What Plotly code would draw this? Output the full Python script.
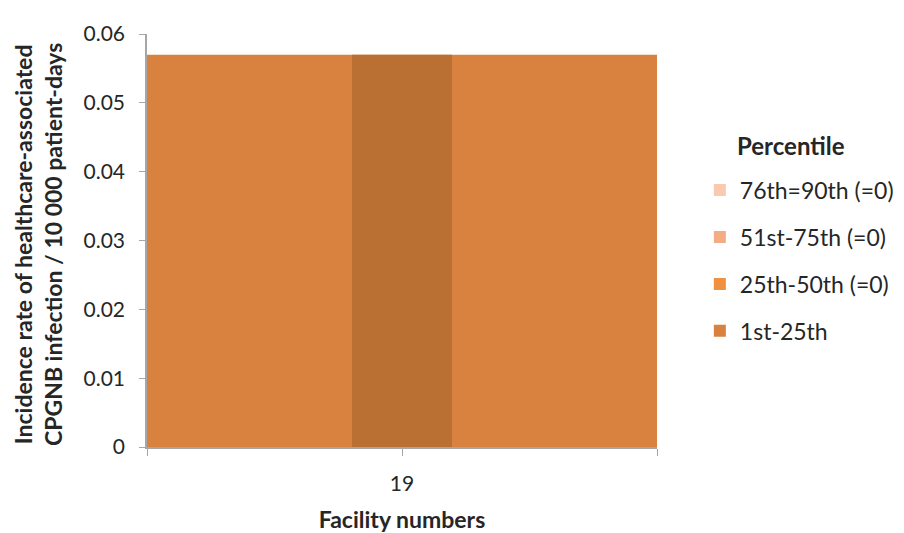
import plotly.graph_objects as go

facilities = ["19"]
p76_90 = [0]
p51_75 = [0]
p25_50 = [0]
p1_25 = [0.057]
y_ticks = [0, 0.01, 0.02, 0.03, 0.04, 0.05, 0.06]
y_ticktext = ["0", "0.01", "0.02", "0.03", "0.04", "0.05", "0.06"]

x_pos = list(range(len(facilities)))
FONT = "Lato, Noto Sans, sans-serif"

fig = go.Figure()
# full-width area (1st-25th)
fig.add_trace(go.Bar(x=x_pos, y=p1_25, width=1, name="1st-25th",
                     marker=dict(color="#D9823F", line=dict(width=0)),
                     legendgroup="d", legendrank=4))
# facility bar
fig.add_trace(go.Bar(x=x_pos, y=p1_25, width=0.196, name="1st-25th",
                     marker=dict(color="#B97032", line=dict(width=0)),
                     showlegend=False))
fig.add_trace(go.Bar(x=x_pos, y=p25_50, width=0.196, name="25th-50th (=0)",
                     marker=dict(color="#F0913F", line=dict(width=0)),
                     legendgroup="c", legendrank=3))
fig.add_trace(go.Bar(x=x_pos, y=p51_75, width=0.196, name="51st-75th (=0)",
                     marker=dict(color="#F2AD87", line=dict(width=0)),
                     legendgroup="b", legendrank=2))
fig.add_trace(go.Bar(x=x_pos, y=p76_90, width=0.196, name="76th=90th (=0)",
                     marker=dict(color="#F9C9B0", line=dict(width=0)),
                     legendgroup="a", legendrank=1))

fig.update_layout(
    width=904, height=533,
    margin=dict(l=139, r=255, t=17, b=93),
    barmode="overlay",
    plot_bgcolor="white", paper_bgcolor="white",
    font=dict(family=FONT, size=21, color="#262626"),
    showlegend=True,
    legend=dict(
        x=1.084, xanchor="left", y=0.674, yanchor="top",
        traceorder="grouped", tracegroupgap=14,
        font=dict(size=23), itemwidth=30,
    ),
    xaxis=dict(
        range=[-0.5, 0.5], tickvals=[-0.5, 0, 0.5], ticktext=["", facilities[0], ""],
        showline=True, linecolor="#A6A6A6", linewidth=1.5,
        ticks="outside", ticklen=7, tickcolor="#A6A6A6",
        showgrid=False, zeroline=False,
        tickfont=dict(size=21), ticklabelstandoff=10,
        title=dict(text="<b>Facility numbers</b>", font=dict(size=23), standoff=18),
    ),
    yaxis=dict(
        range=[0, 0.06], tickvals=y_ticks, ticktext=y_ticktext,
        showline=True, linecolor="#A6A6A6", linewidth=1.5,
        ticks="outside", ticklen=6, tickcolor="#A6A6A6",
        showgrid=True, gridcolor="#A6A6A6", gridwidth=1.5, zeroline=False,
        tickfont=dict(size=21), ticklabelstandoff=10,
    ),
    annotations=[
        dict(text="<b>Incidence rate of healthcare-associated<br>CPGNB infection / 10 000 patient-days</b>",
             xref="paper", yref="paper", x=-0.2150, y=0.49, xanchor="center", yanchor="middle",
             textangle=-90, showarrow=False, font=dict(size=23), align="center"),
        dict(text="<b>Percentile</b>", xref="paper", yref="paper", x=1.263, y=0.730,
             xanchor="center", yanchor="middle", showarrow=False, font=dict(size=24)),
    ],
)

fig.write_html("out.html")
